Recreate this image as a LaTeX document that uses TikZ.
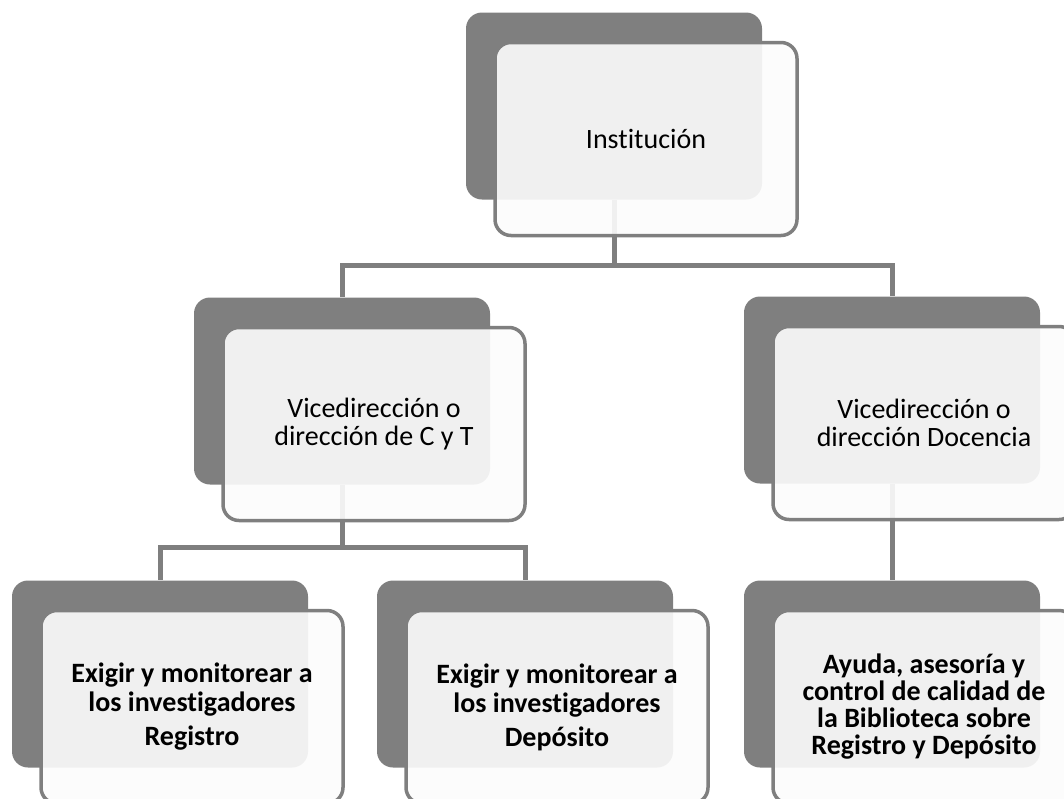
\documentclass[tikz,border=0pt]{standalone}
\usepackage{fontspec}
\setmainfont{Carlito}[Ligatures=NoCommon]
\definecolor{grisosc}{HTML}{7F7F7F}
\tikzset{
  fondo/.style={rectangle, rounded corners=16pt, fill=grisosc, draw=none,
    minimum width=296pt, minimum height=187pt, inner sep=0pt},
  caja/.style={rectangle, rounded corners=16pt, draw=grisosc, line width=3.5pt,
    fill=white!99!black, fill opacity=0.91, text opacity=1,
    minimum width=302pt, minimum height=193pt, align=center,
    font=\fontsize{28}{28}\selectfont},
  cajab/.style={caja, font=\bfseries\fontsize{28}{29}\selectfont},
  linea/.style={draw=grisosc, line width=5pt}
}
\begin{document}
\begin{tikzpicture}[x=1pt, y=-1pt]
    \useasboundingbox (0,0) rectangle (1064,798);
    % Rettangoli scuri dietro
    \foreach \n/\x/\y in {inst/614/106, vcyt/342/391, vdoc/892/390,
                          reg/160/674, dep/525/674, bib/892/674} {
      \node[fondo] (\n-b) at (\x,\y) {};
    }
    % Collegamenti
    \coordinate (bus1) at (614,265);
    \coordinate (bus2) at (342,547);
    \draw[linea] (inst-b.south) -- (bus1) -| (vcyt-b.north);
    \draw[linea] (bus1) -| (vdoc-b.north);
    \draw[linea] (vcyt-b.south) -- (bus2) -| (reg-b.north);
    \draw[linea] (bus2) -| (dep-b.north);
    \draw[linea] (vdoc-b.south) -- (bib-b.north);
    % Caselle con testo
    \node[caja] (inst) at ([xshift=32pt, yshift=-33pt]inst-b.center) {Institución};
    \node[caja] (vcyt) at ([xshift=32pt, yshift=-33pt]vcyt-b.center)
      {Vicedirección o\\dirección de C y T};
    \node[caja] (vdoc) at ([xshift=32pt, yshift=-33pt]vdoc-b.center)
      {Vicedirección o\\dirección Docencia};
    \node[cajab] (reg) at ([xshift=32pt, yshift=-33pt]reg-b.center)
      {Exigir y monitorear a\\los investigadores\\[5pt]Registro};
    \node[cajab] (dep) at ([xshift=32pt, yshift=-33pt]dep-b.center)
      {Exigir y monitorear a\\los investigadores\\[5pt]Depósito};
    \node[cajab, font=\bfseries\fontsize{28}{27}\selectfont] (bib)
      at ([xshift=32pt, yshift=-33pt]bib-b.center)
      {Ayuda, asesoría y\\control de calidad de\\la Biblioteca sobre\\Registro y Depósito};
  \end{tikzpicture}
\end{document}
